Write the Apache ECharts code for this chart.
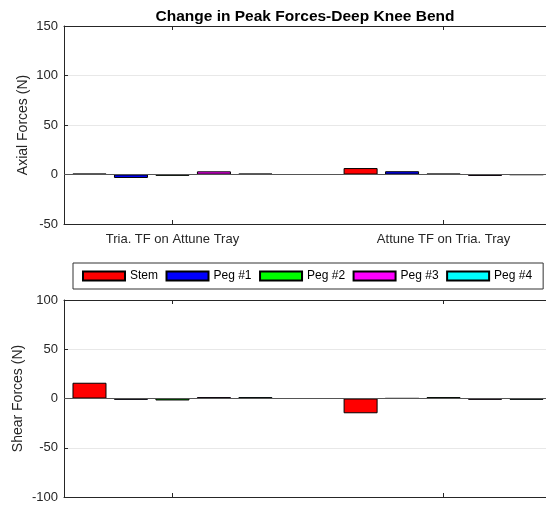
<!DOCTYPE html>
<html>
<head>
<meta charset="utf-8">
<script src="https://cdn.jsdelivr.net/npm/echarts@6/dist/echarts.min.js"></script>
<style>html,body{margin:0;padding:0;background:#fff}#c{width:546px;height:506px}</style>
</head>
<body>
<div id="c"></div>
<script>
const categories = ['Tria. TF on Attune Tray', 'Attune TF on Tria. Tray'];
const seriesNames = ['Stem', 'Peg #1', 'Peg #2', 'Peg #3', 'Peg #4'];
const seriesColors = ['#ff0000', '#0000ff', '#00ff00', '#ff00ff', '#00ffff'];

const axialStem = [0.8, 6.5];
const axialPeg1 = [-3.5, 3.3];
const axialPeg2 = [-1.3, 0.8];
const axialPeg3 = [3.2, -1.4];
const axialPeg4 = [0.8, -0.3];

const shearStem = [16, -15];
const shearPeg1 = [-1.3, 0.2];
const shearPeg2 = [-2, 1.4];
const shearPeg3 = [1.4, -1.3];
const shearPeg4 = [1.4, -1.3];

const axialTicks = [-50, 0, 50, 100, 150];
const shearTicks = [-100, -50, 0, 50, 100];

const axialData = [axialStem, axialPeg1, axialPeg2, axialPeg3, axialPeg4];
const shearData = [shearStem, shearPeg1, shearPeg2, shearPeg3, shearPeg4];

const FONT = 'Liberation Sans, Arial, sans-serif';
const TXT = '#262626';
const catPos = categories.map((c, i) => i + 1);

function xAx(gridIndex, position, showLabel) {
  return {
    type: 'value', gridIndex, position, min: 0.6, max: 2.4,
    axisLine: { show: true, onZero: false, lineStyle: { color: TXT, width: 1 } },
    axisTick: { show: true, inside: true, length: 4, customValues: catPos, lineStyle: { color: TXT } },
    axisLabel: { show: showLabel, customValues: catPos, margin: 9, fontFamily: FONT, fontSize: 13, color: TXT,
      formatter: v => categories[Math.round(v) - 1] || '' },
    splitLine: { show: false }
  };
}
function yAx(gridIndex, ticks, name, nameGap) {
  return {
    type: 'value', gridIndex, min: ticks[0], max: ticks[ticks.length - 1], interval: 50,
    name, nameLocation: 'middle', nameGap, nameMoveOverlap: false,
    nameTextStyle: { fontFamily: FONT, fontSize: 14, color: TXT },
    axisLine: { show: true, lineStyle: { color: TXT, width: 1 } },
    axisTick: { show: true, inside: true, length: 4, lineStyle: { color: TXT } },
    axisLabel: { margin: 6, fontFamily: FONT, fontSize: 13, color: TXT },
    splitLine: { show: true, lineStyle: { color: '#e8e8e8', width: 1 } }
  };
}

const series = [];
[axialData, shearData].forEach((set, g) => {
  set.forEach((arr, i) => {
    series.push({
      type: 'bar', name: seriesNames[i], xAxisIndex: g * 2, yAxisIndex: g,
      barWidth: 34, barGap: '22%',
      itemStyle: { color: seriesColors[i], borderColor: '#000', borderWidth: 1 },
      data: catPos.map((p, k) => [p, arr[k]]),
      markLine: i === 0 ? { silent: true, symbol: 'none', label: { show: false },
        lineStyle: { color: '#555', width: 1, type: 'solid' }, data: [{ yAxis: 0 }] } : undefined,
      animation: false
    });
  });
});

const chart = echarts.init(document.getElementById('c'), null, { renderer: 'canvas' });
chart.setOption({
  animation: false,
  title: { text: 'Change in Peak Forces-Deep Knee Bend', left: 300, textAlign: 'center', top: 4,
    textStyle: { fontFamily: FONT, fontSize: 15.5, fontWeight: 'bold', color: '#000' } },
  legend: {
    data: seriesNames, left: 73, top: 263, width: 490, orient: 'horizontal',
    itemWidth: 42, itemHeight: 9, itemGap: 7.5, padding: [7, 11, 7, 9],
    borderColor: '#333', borderWidth: 1, icon: 'rect',
    textStyle: { fontFamily: FONT, fontSize: 12, color: '#000' }
  },
  grid: [
    { left: 64, width: 488, top: 26, height: 198, outerBoundsMode: 'none', containLabel: false },
    { left: 64, width: 488, top: 300, height: 197, outerBoundsMode: 'none', containLabel: false }
  ],
  xAxis: [xAx(0, 'bottom', true), xAx(0, 'top', false), xAx(1, 'bottom', false), xAx(1, 'top', false)],
  yAxis: [yAx(0, axialTicks, 'Axial Forces (N)', 34), yAx(1, shearTicks, 'Shear Forces (N)', 39)],
  series
});
</script>
</body>
</html>
